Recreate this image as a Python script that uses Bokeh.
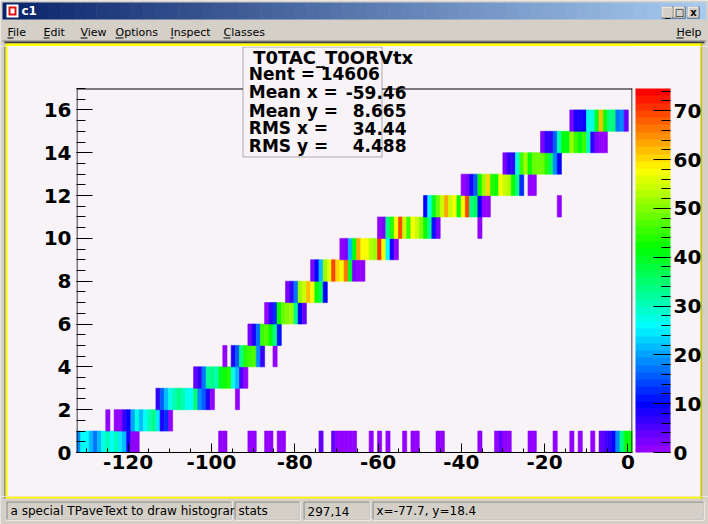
import colorsys
from bokeh.plotting import figure
from bokeh.layouts import column, row
from bokeh.models import (Range1d, FixedTicker, LinearColorMapper, ColorBar,
                          BoxAnnotation, Label, ColumnDataSource)
from bokeh.core.properties import value
from bokeh.transform import transform
from bokeh.embed import file_html
from bokeh.resources import INLINE

# ---------------- data ----------------
X_MIN, X_MAX = -132.4, 1.1
N_XBINS = 133
Y_MIN, Y_MAX = 0, 17
Z_MAX = 74.55

seg_row = [0, 0, 0, 0, 0, 0, 0, 0, 0, 0, 0, 0, 0, 0, 0, 0, 0, 0, 0, 0, 0,
           1, 1, 2, 2, 3, 4, 4, 4, 5, 6, 7, 8, 9, 10, 10, 11, 11, 12, 13, 14, 15]
seg_start = [0, 34, 41, 45, 48, 58, 61, 70, 72, 74, 78, 80, 86, 96, 100, 108, 114, 118, 120, 123, 125,
             7, 9, 19, 38, 28, 35, 37, 47, 41, 45, 50, 56, 63, 72, 96, 83, 115, 92, 102, 111, 118]
seg_counts = [
    [19, 26, 26, 22, 17, 22, 27, 30, 26, 30, 25, 21, 8, 1, 1],
    [1, 1], [1, 1], [1, 1], [1, 1], [3], [3, 1, 1, 1, 1, 1], [1], [1], [1], [1], [1, 1], [1, 1], [1],
    [1, 4, 1, 1], [1, 1], [1], [1], [1], [1], [4, 5, 7, 10, 18, 34, 41, 43],
    [1], [1, 1, 6, 9, 20, 27, 22, 26, 30, 34, 25, 8, 13, 1],
    [6, 15, 21, 28, 31, 33, 31, 27, 26, 35, 18, 15, 8, 1], [1],
    [3, 6, 17, 32, 33, 31, 40, 43, 44, 27, 22, 5, 1],
    [1], [8, 16, 34, 44, 46, 47, 18, 6], [1],
    [2, 8, 17, 45, 47, 43, 33, 11],
    [1, 7, 12, 43, 49, 50, 51, 34, 10, 3],
    [2, 7, 17, 51, 55, 62, 57, 43, 37, 10],
    [2, 10, 22, 51, 56, 69, 60, 58, 67, 40, 2, 1, 1],
    [1, 2, 21, 41, 64, 58, 57, 53, 52, 71, 58, 26, 8, 1],
    [1, 2, 33, 44, 57, 69, 54, 45, 58, 54, 50, 43, 34, 11, 2], [1],
    [10, 26, 39, 49, 54, 63, 54, 57, 43, 58, 69, 34, 37, 10, 1, 1], [1],
    [1, 2, 8, 16, 42, 51, 60, 44, 43, 58, 54, 53, 43, 34, 12, 0, 1, 1],
    [2, 7, 7, 28, 45, 51, 42, 48, 49, 49, 44, 37, 18, 10],
    [2, 7, 7, 16, 30, 41, 41, 51, 45, 41, 45, 31, 7, 2, 1, 1],
    [2, 8, 8, 9, 28, 27, 40, 62, 43, 34, 35, 17, 19, 3],
]

x_major = [-120, -100, -80, -60, -40, -20, 0]
x_minor = list(range(-130, 1, 5))
y_major = list(range(0, 17, 2))
y_minor = [i * 0.5 for i in range(0, 35)]
z_major = list(range(0, 71, 10))
z_minor = list(range(0, 75, 2))

stats_title = "T0TAC_T0ORVtx"
stats_names = ["Nent =", "Mean x =", "Mean y =", "RMS x  =", "RMS y  ="]
stats_values = ["14606", "-59.46", "8.665", "34.44", "4.488"]
window_title = "c1"
menu_items = ["File", "Edit", "View", "Options", "Inspect", "Classes"]
menu_help = "Help"
status_fields = ["a special TPaveText to draw histogram", "stats", "297,14", "x=-77.7, y=18.4"]

# ---------------- styles / layout ----------------
CANVAS = "#f7f3f7"
GREY = "#d4d0c8"
DARK = "#808080"
BLACKISH = "#404040"
YELLOW = "#ffff00"
OLIVE = "#c8c000"
FONT = "DejaVu Sans"

W, H = 708, 524
TOP_H = 46            # title bar + menu + top of the pad
MID_H = 450           # pad body
BOT_H = H - TOP_H - MID_H
FRAME_L, FRAME_R, FRAME_T, FRAME_B = 76, 632, 88, 452   # pixel frame of the histogram

# ROOT "pretty palette": 50 hues violet -> red
palette = []
for i in range(50):
    hue = 280.0 - (i + 1) * 280.0 / 50
    r, g, b = colorsys.hls_to_rgb(hue / 360.0, 0.5, 1.0)
    palette.append("#%02x%02x%02x" % (round(r * 255), round(g * 255), round(b * 255)))
mapper = LinearColorMapper(palette=palette, low=0, high=Z_MAX)


def no_align(f):
    try:
        f.frame_align = False
    except Exception:
        pass


# ---------------- helpers for chrome strips (pixel coordinates) ----------------
def chrome_fig(w, h, x0, y0, bg=GREY):
    f = figure(width=w, height=h, x_range=Range1d(x0, x0 + w), y_range=Range1d(y0 + h, y0),
               output_backend="svg", toolbar_location=None, min_border=0,
               x_axis_location=None, y_axis_location=None)
    f.grid.visible = False
    f.outline_line_color = None
    f.background_fill_color = bg
    f.border_fill_color = bg
    f.title.visible = False
    no_align(f)
    return f


def rect(f, x0, y0, x1, y1, color):
    f.quad(left=[x0], right=[x1], top=[y0], bottom=[y1], fill_color=color, line_color=None)


def txt(f, x, y, s, size, color="black", bold=False, align="left"):
    f.text(x=[x], y=[y], text=[s], text_font=value(FONT), text_font_size=value("%dpx" % size),
           text_font_style=value("bold" if bold else "normal"), text_color=color,
           text_align=value(align), text_baseline=value("middle"))


# ---------------- top strip: title bar, menu, top edge of the pad ----------------
top = chrome_fig(W, TOP_H, 0, 0)
c0 = (10, 36, 106)
c1 = (166, 202, 240)
n = 60
gx0, gx1 = 2, 705
gl, gr, gc = [], [], []
for i in range(n):
    t = i / (n - 1)
    gl.append(gx0 + (gx1 - gx0) * i / n)
    gr.append(gx0 + (gx1 - gx0) * (i + 1) / n + 0.5)
    gc.append("#%02x%02x%02x" % tuple(round(a + (b_ - a) * t) for a, b_ in zip(c0, c1)))
top.quad(left=gl, right=gr, top=[2] * n, bottom=[19] * n, fill_color=gc, line_color=None)
rect(top, 6, 4, 18, 17, "#ffffff")
rect(top, 8, 6, 16, 15, "#e01010")
rect(top, 10, 8, 14, 13, "#ffffff")
txt(top, 21, 10.5, window_title, 12, color="white", bold=True)
for bx0, bx1, sym in [(661, 673, "_"), (673, 685, "\u25a1"), (687, 699, "x")]:
    rect(top, bx0, 6, bx1, 18, BLACKISH)
    rect(top, bx0, 6, bx1 - 1, 17, "#ffffff")
    rect(top, bx0 + 1, 7, bx1 - 1, 17, GREY)
    txt(top, (bx0 + bx1) / 2, 12, sym, 10, bold=True, align="center")
menu_x = [7, 43, 80, 115, 170, 223]
ul_w = [6, 6, 7, 8, 3, 7]
for mx, item, uw in zip(menu_x, menu_items, ul_w):
    txt(top, mx, 32, item, 11)
    rect(top, mx, 37, mx + uw, 38, "black")
txt(top, 676, 32, menu_help, 11)
rect(top, 676, 37, 683, 38, "black")
rect(top, 2, 40, 706, 41, DARK)
rect(top, 4, 41, 704, 43, BLACKISH)
rect(top, 5, 43, 702, TOP_H, YELLOW)
rect(top, 700, 43, 702, TOP_H, OLIVE)

# ---------------- main histogram (pad) ----------------
px_per_y = (FRAME_B - FRAME_T) / (Y_MAX - Y_MIN)
px_per_x = (FRAME_R - FRAME_L) / (X_MAX - X_MIN)
Y_TOP = Y_MAX + (FRAME_T - TOP_H) / px_per_y      # frame reaches up to the pad top (for the stats box)

bw = (X_MAX - X_MIN) / N_XBINS
cl, cr, cb_, ct, cz = [], [], [], [], []
for r_, s_, counts in zip(seg_row, seg_start, seg_counts):
    for j, c in enumerate(counts):
        if c <= 0:
            continue
        k = s_ + j
        cl.append(X_MIN + k * bw)
        cr.append(X_MIN + (k + 1) * bw)
        cb_.append(r_)
        ct.append(r_ + 1)
        cz.append(c)
src = ColumnDataSource(dict(left=cl, right=cr, bottom=cb_, top=ct, z=cz))

p = figure(width=W, height=MID_H, x_range=Range1d(X_MIN, X_MAX), y_range=Range1d(Y_MIN, Y_TOP),
           output_backend="svg", toolbar_location=None,
           min_border_left=FRAME_L, min_border_right=W - FRAME_R,
           min_border_top=0, min_border_bottom=TOP_H + MID_H - FRAME_B)
no_align(p)
p.title.visible = False
p.background_fill_color = CANVAS
p.border_fill_color = CANVAS
p.outline_line_color = None
p.xgrid.visible = False
p.ygrid.visible = False

p.quad(left="left", right="right", bottom="bottom", top="top", source=src,
       fill_color=transform("z", mapper), line_color=transform("z", mapper), line_width=0.6)

# frame lines (left, top, right); the bottom one is the x axis line
ex = 0.5 / px_per_x
ey = 0.5 / px_per_y
p.segment(x0=[X_MIN + ex, X_MIN, X_MAX - ex], y0=[Y_MIN, Y_MAX - ey, Y_MIN],
          x1=[X_MIN + ex, X_MAX, X_MAX - ex], y1=[Y_MAX, Y_MAX - ey, Y_MAX],
          line_color="black", line_width=1)

for ax in (p.xaxis[0], p.yaxis[0]):
    ax.major_tick_out = 0
    ax.minor_tick_out = 0
    ax.major_tick_line_color = "black"
    ax.minor_tick_line_color = "black"
    ax.major_label_text_font = FONT
    ax.major_label_text_font_style = "bold"
    ax.major_label_text_font_size = "20px"
    ax.major_label_text_color = "black"

p.xaxis.axis_line_color = "black"
p.xaxis.ticker = FixedTicker(ticks=x_major, minor_ticks=x_minor)
p.xaxis.major_label_overrides = {v: str(v) for v in x_major}
p.xaxis.major_tick_in = 9
p.xaxis.minor_tick_in = 4
p.xaxis.major_label_standoff = 2

p.yaxis.axis_line_color = None
p.yaxis.ticker = FixedTicker(ticks=y_major, minor_ticks=y_minor)
p.yaxis.major_tick_in = 16
p.yaxis.minor_tick_in = 9
p.yaxis.major_label_standoff = 5


# side edges of the window / pad highlight, drawn as solid colour strips
def side_strip(x0, y0, x1, y1, color):
    cm = LinearColorMapper(palette=[color], low=0, high=1)
    p.add_layout(ColorBar(color_mapper=cm, ticker=FixedTicker(ticks=[]),
                          width=x1 - x0, height=y1 - y0,
                          location=(x0 - FRAME_L, FRAME_B - y1), padding=0, margin=0,
                          bar_line_color=None, border_line_color=None, background_fill_alpha=0,
                          major_tick_line_color=None, minor_tick_line_color=None,
                          major_label_text_font_size="0px", label_standoff=0))


BOT_Y = TOP_H + MID_H
side_strip(0, TOP_H, 4, BOT_Y, GREY)
side_strip(4, TOP_H, 5, BOT_Y, BLACKISH)
side_strip(5, TOP_H, 7, BOT_Y, YELLOW)
side_strip(700, TOP_H, 702, BOT_Y, OLIVE)
side_strip(702, TOP_H, 708, BOT_Y, GREY)

# palette axis
cbar = ColorBar(color_mapper=mapper, ticker=FixedTicker(ticks=z_major, minor_ticks=z_minor),
                width=35, height=FRAME_B - FRAME_T, location=(635 - FRAME_L, 0), padding=0, margin=0,
                label_standoff=3, major_tick_in=17, major_tick_out=0,
                minor_tick_in=9, minor_tick_out=0,
                major_tick_line_color="black", minor_tick_line_color="black",
                bar_line_color=None, border_line_color=None, background_fill_alpha=0,
                major_label_text_font=FONT, major_label_text_font_style="bold",
                major_label_text_font_size="20px", major_label_text_color="black")
p.add_layout(cbar)

# stats box (pixel positions relative to this figure)
OY = TOP_H
p.add_layout(BoxAnnotation(left=242.5, right=381.5, top=46.5 - OY, bottom=156.5 - OY,
                           left_units="canvas", right_units="canvas",
                           top_units="canvas", bottom_units="canvas",
                           fill_color=CANVAS, fill_alpha=1, line_color="black", line_width=1))


def stat_label(x, y, s, align="left", size=17):
    p.add_layout(Label(x=x, y=y - OY, x_units="canvas", y_units="canvas", text=s,
                       text_font=FONT, text_font_size="%dpx" % size, text_font_style="bold",
                       text_color="black", text_align=align, text_baseline="middle"))


stat_label(252.7, 57, stats_title, size=18)
stat_y = [73, 91.7, 110, 127.5, 145]
val_right = [379.3, 406, 406, 406, 406]
for yy, nm, vv, xr in zip(stat_y, stats_names, stats_values, val_right):
    stat_label(248.3, yy, nm)
    stat_label(xr, yy, vv, align="right")

# ---------------- bottom strip: status bar ----------------
bot = chrome_fig(W, BOT_H, 0, BOT_Y)
rect(bot, 4, 496, 5, 498, BLACKISH)
rect(bot, 5, 496, 702, 498, YELLOW)
rect(bot, 700, 496, 702, 498, OLIVE)
fields = [(6, 232), (234, 300), (303, 370), (372, 704)]
for (fx0, fx1), s in zip(fields, status_fields):
    rect(bot, fx0, 501, fx1, 520, "#ffffff")
    rect(bot, fx0, 501, fx1 - 1, 519, DARK)
    rect(bot, fx0 + 1, 502, fx1 - 1, 519, GREY)
    txt(bot, fx0 + 4, 510.5, s, 12)

layout = column(top, row(p), bot)
open("out.html", "w").write(file_html(layout, INLINE))
